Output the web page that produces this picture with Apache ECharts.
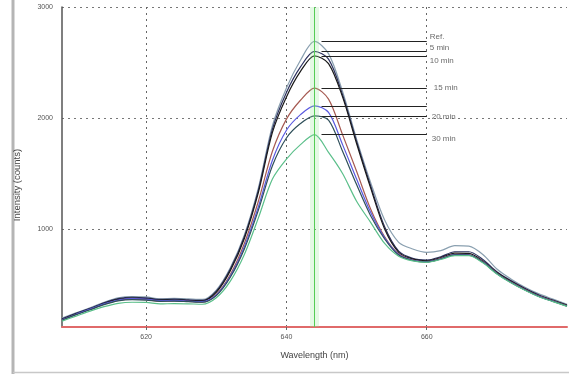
<!DOCTYPE html>
<html>
<head>
<meta charset="utf-8">
<script src="https://cdn.jsdelivr.net/npm/echarts@6/dist/echarts.min.js"></script>
<style>
  html, body { margin: 0; padding: 0; background: #fff; }
  #chart { width: 569px; height: 374px; }
</style>
</head>
<body>
<div id="chart"></div>
<script>
// wavelength grid (nm)
const wavelengths = [608, 610, 612, 614, 616, 618, 620, 622, 624, 626, 628, 630, 632, 634, 636, 638, 640, 642, 644,
  646, 648, 650, 652, 654, 656, 658, 660, 662, 664, 666, 668, 670, 672, 674, 676, 678, 680];

// intensity (counts) per series
const refValues = [198, 245, 290, 340, 380, 392, 388, 370, 375, 370, 365, 450, 650, 946, 1370, 1930, 2270, 2520, 2690,
  2580, 2240, 1810, 1420, 1080, 880, 820, 790, 805, 850, 845, 770, 640, 550, 475, 415, 368, 322];
const min5Values = [190, 240, 285, 335, 372, 385, 380, 365, 368, 362, 356, 440, 640, 930, 1350, 1900, 2230, 2460, 2600,
  2530, 2210, 1790, 1390, 1020, 800, 735, 720, 750, 795, 795, 725, 615, 535, 465, 405, 360, 315];
const min10Values = [185, 235, 280, 330, 366, 378, 374, 360, 362, 356, 352, 430, 625, 915, 1330, 1870, 2190, 2420, 2560,
  2490, 2190, 1770, 1370, 1000, 790, 728, 712, 742, 782, 780, 712, 608, 528, 460, 400, 356, 312];
const min15Values = [180, 230, 275, 322, 356, 368, 364, 350, 352, 348, 342, 410, 590, 870, 1250, 1700, 1990, 2160, 2270,
  2170, 1850, 1520, 1180, 930, 775, 720, 705, 735, 772, 770, 705, 602, 522, 455, 395, 352, 308];
const blueValues = [182, 232, 278, 325, 360, 372, 368, 355, 356, 350, 345, 405, 575, 840, 1200, 1620, 1890, 2030, 2110,
  2050, 1760, 1450, 1150, 920, 770, 718, 705, 732, 770, 768, 702, 600, 520, 452, 393, 350, 306];
const min20Values = [178, 228, 272, 318, 352, 364, 360, 348, 350, 345, 340, 400, 565, 820, 1170, 1570, 1820, 1950, 2020,
  1980, 1700, 1400, 1120, 910, 765, 716, 702, 730, 766, 765, 700, 598, 518, 450, 392, 348, 305];
const min30Values = [170, 215, 260, 300, 330, 340, 338, 325, 328, 326, 322, 380, 530, 770, 1100, 1450, 1630, 1760, 1850,
  1690, 1500, 1250, 1060, 870, 755, 712, 700, 725, 760, 760, 695, 595, 515, 448, 390, 346, 303];

const seriesNames = ['Ref.', '5 min', '10 min', '15 min', '', '20 min', '30 min'];
const seriesColors = ['#8aa0b0', '#2e3360', '#1a1a1a', '#a65a52', '#5a5ae0', '#2f4f5a', '#5bbf8a'];
const seriesData = [refValues, min5Values, min10Values, min15Values, blueValues, min20Values, min30Values];

const xTicks = [620, 640, 660];
const yTicks = [1000, 2000, 3000];
const cursorWl = 644;      // green cursor line
const leaderStart = 645;   // leader lines from peak to label
const leaderEnd = 660;

// label nudges in px: [dx, dy] (+dy is down)
const labelNudges = [[3, -5], [3, -4], [3, 5], [7, 0], [3, 0], [5, 1], [5, 4]];

const chart = echarts.init(document.getElementById('chart'));

const peaks = seriesData.map((vals) => Math.max(...vals));

const series = seriesData.map((vals, i) => ({
  name: seriesNames[i] || 'curve',
  type: 'line',
  smooth: 0.3,
  symbol: 'none',
  data: wavelengths.map((w, k) => [w, vals[k]]),
  lineStyle: { color: seriesColors[i], width: 1.2 },
  z: 3,
  markLine: {
    silent: true,
    symbol: 'none',
    lineStyle: { color: '#222', width: 1.2, type: 'solid' },
    label: { show: false },
    data: [[{ coord: [leaderStart, peaks[i]] }, { coord: [leaderEnd, peaks[i]] }]]
  }
}));

// peak labels at the end of the leader lines
series.push({
  name: 'labels',
  type: 'scatter',
  symbolSize: 0,
  silent: true,
  z: 5,
  data: peaks.map((p, i) => ({
    value: [leaderEnd, p],
    label: {
      show: seriesNames[i] !== '',
      position: 'right',
      formatter: seriesNames[i],
      offset: labelNudges[i],
      distance: 0,
      color: '#444',
      fontSize: 8,
      fontFamily: 'Liberation Sans'
    }
  }))
});

// green cursor line
series.push({
  name: 'cursor',
  type: 'line',
  data: [],
  markLine: {
    silent: true,
    symbol: 'none',
    label: { show: false },
    data: [
      { xAxis: cursorWl, lineStyle: { color: 'rgba(150,230,150,0.25)', width: 9, type: 'solid' } },
      { xAxis: cursorWl, lineStyle: { color: '#55cc55', width: 1, type: 'solid' } }
    ]
  },
  z: 2
});

const option = {
  animation: false,
  backgroundColor: '#fff',
  grid: { left: 62, right: 2, top: 7, bottom: 47 },
  xAxis: {
    type: 'value',
    min: 608,
    max: 680,
    name: 'Wavelength (nm)',
    nameLocation: 'middle',
    nameGap: 24,
    nameTextStyle: { color: '#444', fontSize: 9, fontFamily: 'Liberation Sans' },
    axisLine: { show: true, onZero: false, lineStyle: { color: '#e06a6a', width: 2 } },
    axisTick: { show: true, customValues: xTicks, length: 3, lineStyle: { color: '#666' } },
    axisLabel: { customValues: xTicks, color: '#555', fontSize: 7, fontFamily: 'Liberation Sans', margin: 7 },
    splitLine: { show: true, lineStyle: { color: '#666', type: [2, 4], width: 1 } }
  },
  yAxis: {
    type: 'value',
    min: 117,
    max: 3000,
    name: 'Intensity (counts)',
    nameLocation: 'middle',
    nameGap: 40,
    nameTextStyle: { color: '#444', fontSize: 9.5, fontFamily: 'Liberation Sans', padding: [0, 0, 0, -36] },
    axisLine: { show: true, lineStyle: { color: '#555', width: 1.5 } },
    axisTick: { show: false, customValues: yTicks },
    axisLabel: {
      customValues: yTicks,
      formatter: (v) => String(v),
      color: '#555', fontSize: 7, fontFamily: 'Liberation Sans', margin: 9
    },
    splitLine: { show: true, lineStyle: { color: '#777', type: [2, 4], width: 1 } }
  },
  graphic: [
    { type: 'line', shape: { x1: 13, y1: 0, x2: 13, y2: 374 }, style: { stroke: '#b5b5b5', lineWidth: 3 } },
    { type: 'line', shape: { x1: 13, y1: 372.5, x2: 569, y2: 372.5 }, style: { stroke: '#c8c8c8', lineWidth: 1.5 } }
  ],
  series: series
};

chart.setOption(option);
</script>
</body>
</html>
